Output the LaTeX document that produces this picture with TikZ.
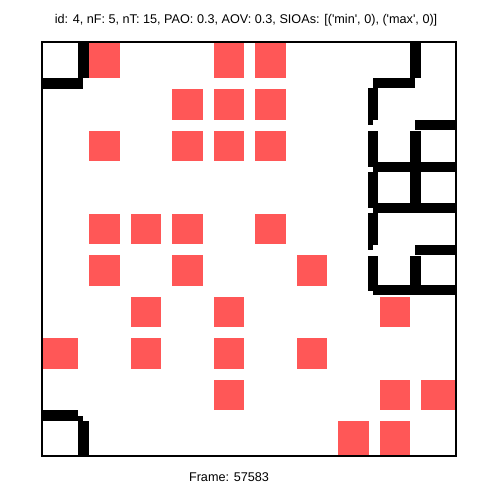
\documentclass[tikz,border=0pt]{standalone}
\usepackage{fontspec}
\setmainfont{Liberation Sans}
\definecolor{cellred}{RGB}{255,87,87}
\begin{document}
\begin{tikzpicture}[x=0.02cm, y=-0.02cm, font=\fontsize{7.2}{8.6}\selectfont]
	\useasboundingbox (0,0) rectangle (500,500);
	\foreach \r/\c in {0/1,0/4,0/5,1/3,1/4,1/5,2/1,2/3,2/4,2/5,4/1,4/2,4/3,4/5,5/1,5/3,5/6,6/2,6/4,6/8,7/0,7/2,7/4,7/6,8/4,8/8,8/9,9/7,9/8} {
		\pgfmathsetmacro\xa{ifthenelse(\c==0,42,47.5+41.5*\c)}
		\pgfmathsetmacro\xb{ifthenelse(\c==9,456,78+41.5*\c)}
		\pgfmathsetmacro\ya{ifthenelse(\r==0,42,47.5+41.5*\r)}
		\pgfmathsetmacro\yb{ifthenelse(\r==9,456,78+41.5*\r)}
		\fill[cellred] (\xa,\ya) rectangle (\xb,\yb);
	}
	\fill (78.3,42) rectangle (89.3,78);
	\fill (42,78) rectangle (83,88.7);
	\fill (42,410) rectangle (78,420.5);
	\fill (78,415.5) rectangle (83,420.5);
	\fill (78.3,420.5) rectangle (88.8,456);
	\fill (410,42) rectangle (420.7,78);
	\fill (372.7,78.2) rectangle (415,88.5);
	\fill (367.7,88.5) rectangle (378.3,119.5);
	\fill (367.7,119.5) rectangle (372.7,125);
	\fill (415,120) rectangle (456,130);
	\fill (367.7,130.7) rectangle (378.3,161.7);
	\fill (367.7,161.7) rectangle (372.7,166.5);
	\fill (410,130.7) rectangle (420.7,161.7);
	\fill (372.7,161.7) rectangle (456,171.7);
	\fill (367.7,171.7) rectangle (378.3,203.3);
	\fill (367.7,203.3) rectangle (372.7,208);
	\fill (410,171.7) rectangle (420.7,203.3);
	\fill (372.7,203.3) rectangle (456,213.3);
	\fill (367.7,213.3) rectangle (378.3,245);
	\fill (367.7,245) rectangle (372.7,250);
	\fill (415,245) rectangle (456,255);
	\fill (367.7,256) rectangle (378.3,285);
	\fill (367.7,285) rectangle (372.7,290.7);
	\fill (410,256) rectangle (420.7,285);
	\fill (372.7,285) rectangle (456,295);
	\draw[line width=0.6pt] (42,42) rectangle (456,456);
	\node (title) at (246,20) {id: 4, nF: 5, nT: 15, PAO: 0.3, AOV: 0.3, SIOAs: [(\textquotesingle min\textquotesingle, 0), (\textquotesingle max\textquotesingle, 0)]};
	\node (frame) at (229,477) {Frame: 57583};
\end{tikzpicture}
\end{document}
